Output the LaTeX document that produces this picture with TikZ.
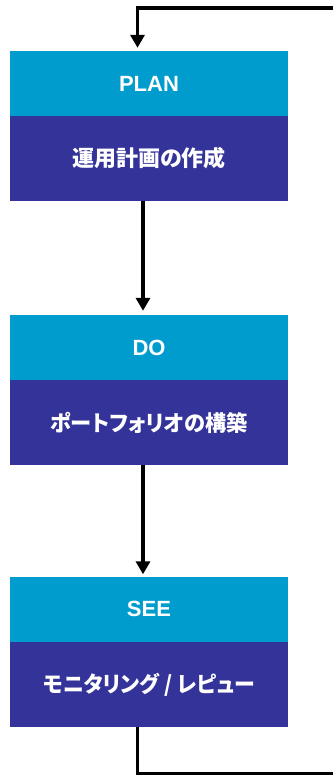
\documentclass[tikz,border=0pt]{standalone}
\usepackage{fontspec}
\setmainfont{Liberation Sans}
\newfontfamily\jpfont{Noto Sans CJK JP}[RawFeature=+palt]
\usetikzlibrary{arrows.meta}
\definecolor{lightband}{HTML}{009CCD}
\definecolor{darkband}{HTML}{343399}
\tikzset{
  band/.style={draw=none, minimum width=278pt, inner sep=0pt, text=white, font=\bfseries\fontsize{22}{26}\selectfont},
  lightbox/.style={band, fill=lightband, minimum height=65pt},
  darkbox/.style={band, fill=darkband, minimum height=85pt, font=\jpfont\bfseries\fontsize{22}{26}\selectfont},
  flowline/.style={line width=3.5pt, -{Triangle[width=14pt,length=13pt]}},
  loopline/.style={line width=3.5pt}
}
\begin{document}
\begin{tikzpicture}[x=1pt, y=-1pt]
\useasboundingbox (0,0) rectangle (332,776);
% PLAN
\node[lightbox] (plantop) at (149,83.5) {PLAN};
\node[darkbox] (plandark) at (149,158.5) {運用計画の作成};
% DO
\node[lightbox] (dotop) at (149,347.5) {DO};
\node[darkbox] (dodark) at (149,422.5) {\scalebox{0.965}[1]{ポートフォリオの構築}};
% SEE
\node[lightbox] (seetop) at (149,609) {SEE};
\node[darkbox] (seedark) at (149,684.5) {\scalebox{0.95}[1]{モニタリング / レピュー}};
% loop ends at the right edge
\coordinate (topR) at (334,8);
\coordinate (botR) at (334,773.3);
% connectors
\draw[flowline, shorten >=4pt] ([xshift=-6pt]plandark.south) -- ([xshift=-6pt]dotop.north);
\draw[flowline, shorten >=2pt] ([xshift=-6pt]dodark.south) -- ([xshift=-6pt]seetop.north);
\draw[flowline, shorten >=3pt] (topR) -| ([xshift=-11.5pt]plantop.north);
\draw[loopline] ([xshift=-11.5pt]seedark.south) |- (botR);
\end{tikzpicture}
\end{document}
